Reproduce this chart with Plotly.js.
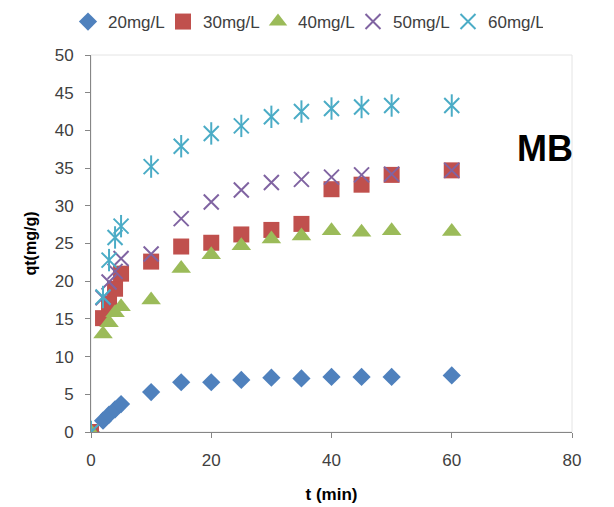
<!DOCTYPE html>
<html>
<head>
<meta charset="utf-8">
<script src="https://cdn.plot.ly/plotly-3.0.1.min.js"></script>
<style>html,body{margin:0;padding:0;background:#fff;}#chart{width:614px;height:507px;}</style>
</head>
<body>
<div id="chart"></div>
<script>
const times = [0, 2, 3, 4, 5, 10, 15, 20, 25, 30, 35, 40, 45, 50, 60];
const q20 = [0, 1.5, 2.3, 3.0, 3.7, 5.3, 6.6, 6.6, 6.9, 7.2, 7.1, 7.3, 7.3, 7.3, 7.5];
const q30 = [0, 15.1, 17.0, 19.0, 21.0, 22.6, 24.6, 25.1, 26.2, 26.8, 27.6, 32.2, 32.8, 34.1, 34.7];
const q40 = [0, 13.0, 14.5, 15.8, 16.6, 17.5, 21.7, 23.5, 24.7, 25.6, 26.0, 26.7, 26.5, 26.7, 26.6];
const q50 = [0, 17.8, 19.9, 21.3, 23.0, 23.6, 28.3, 30.5, 32.1, 33.1, 33.5, 33.8, 34.1, 34.2, 34.7];
const q60 = [0, 17.9, 22.8, 25.8, 27.3, 35.2, 37.9, 39.6, 40.6, 41.8, 42.5, 42.9, 43.1, 43.3, 43.3];
const seriesNames = ["20mg/L", "30mg/L", "40mg/L", "50mg/L", "60mg/L"];
const xTicks = [0, 20, 40, 60, 80];
const yTicks = [0, 5, 10, 15, 20, 25, 30, 35, 40, 45, 50];

const font = "Liberation Sans, Arial, sans-serif";
const traces = [
  {x: times, y: q20, name: seriesNames[0], type: "scatter", mode: "markers",
   marker: {symbol: "diamond", size: 14, color: "#4F81BD"}},
  {x: times, y: q30, name: seriesNames[1], type: "scatter", mode: "markers",
   marker: {symbol: "square", size: 16, color: "#C0504D"}},
  {x: times, y: q40, name: seriesNames[2], type: "scatter", mode: "markers",
   marker: {symbol: "triangle-up", size: 17, color: "#9BBB59"}},
  {x: times, y: q50, name: seriesNames[3], type: "scatter", mode: "markers",
   marker: {symbol: "x-thin-open", size: 15, color: "#8064A2", line: {width: 2, color: "#8064A2"}}},
  {x: times, y: q60, name: seriesNames[4], type: "scatter", mode: "markers", legendgroup: "g60",
   marker: {symbol: "x-thin-open", size: 15, color: "#4BACC6", line: {width: 2, color: "#4BACC6"}}},
  {x: times, y: q60, name: seriesNames[4], type: "scatter", mode: "markers", legendgroup: "g60", showlegend: false,
   marker: {symbol: "line-ns-open", size: 16, color: "#4BACC6", line: {width: 2, color: "#4BACC6"}}}
];

const layout = {
  width: 614, height: 507,
  margin: {l: 91, r: 42, t: 55, b: 75},
  paper_bgcolor: "#fff", plot_bgcolor: "#fff",
  font: {family: font, size: 17, color: "#404040"},
  showlegend: true,
  legend: {orientation: "h", xref: "container", yref: "container",
           x: 68 / 614, xanchor: "left", y: 1 - 22 / 507, yanchor: "middle",
           font: {size: 17, color: "#404040"}, itemwidth: 30, tracegroupgap: 0,
           entrywidth: 50, entrywidthmode: "pixels"},
  xaxis: {range: [0, 80], tickvals: xTicks, ticks: "outside", ticklen: 5, tickcolor: "#868686",
          showgrid: false, zeroline: false, showline: true, linecolor: "#868686", linewidth: 1,
          tickfont: {size: 17, color: "#404040"}, ticklabelstandoff: 8,
          title: {text: "t (min)", font: {size: 17, color: "#000", family: font, weight: "bold"}, standoff: 18}},
  yaxis: {range: [0, 50], tickvals: yTicks, ticks: "outside", ticklen: 5, tickcolor: "#868686",
          showgrid: false, zeroline: false, showline: true, linecolor: "#868686", linewidth: 1,
          tickfont: {size: 17, color: "#404040"}, ticklabelstandoff: 8,
          title: {text: "qt(mg/g)", font: {size: 16, color: "#000", family: font, weight: "bold"}, standoff: 14}},
  shapes: [{type: "rect", xref: "paper", yref: "paper", x0: 0, x1: 1, y0: 0, y1: 1,
            line: {color: "#e4e4e4", width: 1}, layer: "below"}],
  annotations: [{text: "<b>MB</b>", xref: "paper", yref: "paper", x: 0.943, y: 0.752,
                 xanchor: "center", yanchor: "middle", showarrow: false,
                 font: {size: 36, color: "#000", family: font}}]
};

Plotly.newPlot("chart", traces, layout, {displayModeBar: false, staticPlot: true});
</script>
</body>
</html>
